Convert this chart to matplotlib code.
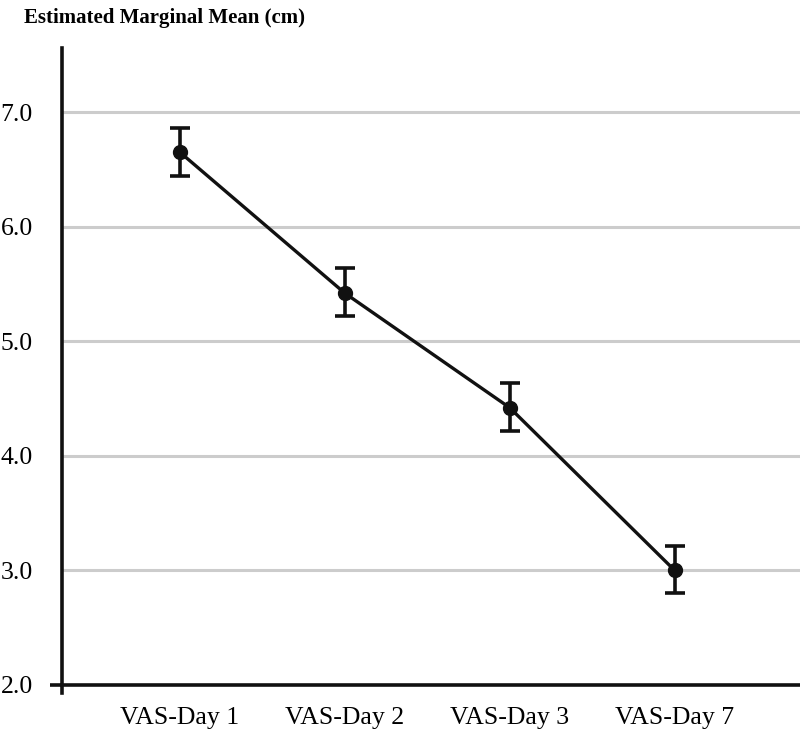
import matplotlib
matplotlib.use("Agg")
import matplotlib.pyplot as plt
import numpy as np

categories = ["VAS-Day 1", "VAS-Day 2", "VAS-Day 3", "VAS-Day 7"]
means = [6.65, 5.42, 4.42, 3.00]
lower = [6.44, 5.22, 4.22, 2.80]
upper = [6.86, 5.64, 4.64, 3.21]
yticks = [2.0, 3.0, 4.0, 5.0, 6.0, 7.0]
ytick_labels = ["2.0", "3.0", "4.0", "5.0", "6.0", "7.0"]

plt.rcParams['font.family'] = ['Liberation Serif', 'DejaVu Serif']

fig = plt.figure(figsize=(8, 7.37), dpi=100)
ax = fig.add_axes([62/800, 44/737, 1 - 62/800, (737-48-44)/737])

x = np.arange(len(categories))
m = np.array(means)
yerr = np.vstack([m - np.array(lower), np.array(upper) - m])

for t in yticks[1:]:
    ax.axhline(t, color="#cccccc", lw=2.2, zorder=1)

ax.errorbar(x, m, yerr=yerr, color="#111111", lw=2.4, marker="o", markersize=10,
            capsize=7, capthick=2.6, elinewidth=2.6, zorder=3)

ax.set_xlim(-0.715, 3.76)
ax.set_ylim(1.93, 7.56)
ax.spines['bottom'].set_position(('data', 2.0))
ax.spines['top'].set_visible(False)
ax.spines['right'].set_visible(False)
ax.spines['left'].set_linewidth(2.6)
ax.spines['bottom'].set_linewidth(2.6)
ax.spines['left'].set_color("#111111")
ax.spines['bottom'].set_color("#111111")

ax.set_xticks(x)
ax.set_xticklabels(categories, fontsize=18.5)
ax.tick_params(axis='x', length=0, pad=16)
ax.set_yticks(yticks)
ax.set_yticklabels(ytick_labels, fontsize=18.5)
ax.tick_params(axis='y', length=0, pad=21)
# single outward tick at 2.0
ax.plot([-0.715 - 12/165, -0.715], [2.0, 2.0], color="#111111", lw=2.6,
        clip_on=False, zorder=4, solid_capstyle='butt')

fig.text(24/800, 1 - 18/737, "Estimated Marginal Mean (cm)", fontsize=15,
         fontweight='bold', ha='left', va='center')

fig.savefig("out.png", dpi=100)
